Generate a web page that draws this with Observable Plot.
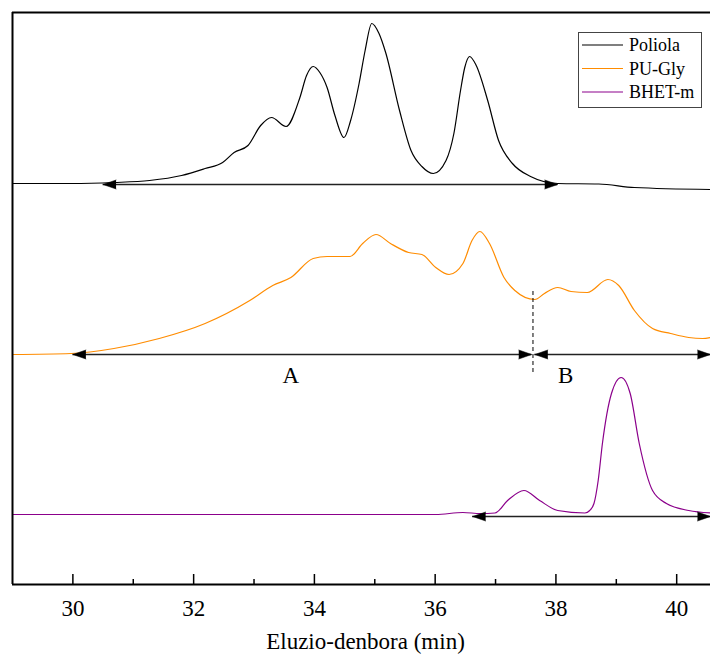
<!DOCTYPE html>
<html>
<head>
<meta charset="utf-8">
<script src="https://cdn.jsdelivr.net/npm/d3@7"></script>
<script src="https://cdn.jsdelivr.net/npm/@observablehq/plot@0.6"></script>
<style>
  body { margin: 0; background: #fff; }
  #wrap { position: relative; width: 710px; height: 660px; font-family: 'Liberation Serif', 'Times New Roman', serif; }
  #wrap svg text { font-family: 'Liberation Serif', 'Times New Roman', serif; }
  #legend { position: absolute; left: 578px; top: 32px; }
</style>
</head>
<body>
<div id="wrap"></div>
<script>
// ---- data (x: elution time in min, y: signal in arbitrary units) ----
const seriesNames = ["Poliola", "PU-Gly", "BHET-m"];
const seriesColors = ["#000000", "#ff8c00", "#8b008b"];
const seriesOffsets = [401, 230, 70];

const xPoliola = [29.0, 29.97, 30.68, 31.27, 31.80, 32.19, 32.48, 32.67, 32.90, 33.11, 33.29, 33.53, 33.76, 33.87, 33.98, 34.09, 34.21, 34.34, 34.49, 34.60, 34.74, 34.84, 34.95, 35.07, 35.18, 35.41, 35.60, 35.78, 35.97, 36.18, 36.31, 36.42, 36.49, 36.57, 36.68, 36.87, 37.05, 37.28, 37.58, 38.03, 38.71, 39.30, 40.56];
const yPoliola = [0, 0, 1, 3, 8, 15, 21, 31, 38, 58, 66, 57, 86, 108, 117, 111, 96, 68, 46, 63, 100, 133, 160, 150, 131, 73, 33, 17, 10, 23, 50, 93, 116, 127, 118, 83, 43, 20, 7, 0, -0.5, -4, -6];

const xPUGly = [29.0, 29.97, 30.68, 31.43, 32.19, 32.93, 33.31, 33.61, 33.98, 34.21, 34.59, 34.80, 35.02, 35.26, 35.56, 35.78, 36.01, 36.23, 36.46, 36.61, 36.74, 36.90, 37.14, 37.32, 37.65, 37.81, 38.03, 38.25, 38.52, 38.86, 39.04, 39.30, 39.60, 39.90, 40.20, 40.43, 40.56];
const yPUGly = [0, 1, 6, 16, 31, 54, 69, 77, 96, 98, 98, 111, 120, 111, 102, 100, 87, 80, 91, 114, 123, 111, 77, 64, 55, 61, 67, 63, 62, 75, 69, 44, 26, 21, 17, 16, 17];

const xBHET = [29.0, 36.01, 36.46, 36.75, 36.99, 37.20, 37.47, 37.73, 38.03, 38.48, 38.56, 38.63, 38.70, 38.77, 38.92, 39.08, 39.23, 39.38, 39.60, 39.83, 40.20, 40.56];
const yBHET = [0, 0, 2, 1, 1.5, 14, 24, 14, 4, 1.5, 4, 11, 34, 71, 121, 137, 121, 71, 24, 11, 4, 1.5];

// annotation arrows (range of elution), y in the same offset units
const arrowX1 = [30.50, 30.00, 37.65, 36.62];
const arrowX2 = [38.03, 37.60, 40.56, 40.56];
const arrowY  = [400, 230, 230, 68];

const dividerX = [37.62];
const dividerY1 = 212, dividerY2 = 294;

const regionLabels = ["A", "B"];
const regionLabelX = [33.61, 38.16];
const regionLabelY = 209;

const majorTicks = [30, 32, 34, 36, 38, 40];
const minorTicks = [31, 33, 35, 37, 39];
const xLabel = "Eluzio-denbora (min)";

// ---- build tables ----
const xs = [xPoliola, xPUGly, xBHET];
const ys = [yPoliola, yPUGly, yBHET];
const rows = [];
seriesNames.forEach((s, i) => {
  xs[i].forEach((x, j) => rows.push({series: s, x, y: seriesOffsets[i] + ys[i][j]}));
});
const arrows = arrowX1.map((x1, i) => ({x1, x2: arrowX2[i], y: arrowY[i]}));
const heads = arrows.flatMap(a => [{x: a.x1, y: a.y, rot: -90}, {x: a.x2, y: a.y, rot: 90}]);
const labels = regionLabels.map((t, i) => ({text: t, x: regionLabelX[i], y: regionLabelY}));

const serif = "Liberation Serif";

const chart = Plot.plot({
  width: 710,
  height: 660,
  marginLeft: 12,
  marginRight: 0,
  marginTop: 12,
  marginBottom: 76,
  style: "font-family: 'Liberation Serif', serif; font-size: 23px; background: white; color: black; overflow: visible;",
  x: {domain: [29, 40.56]},
  y: {domain: [0, 572], axis: null},
  color: {domain: seriesNames, range: seriesColors},
  marks: [
    Plot.axisX({ticks: majorTicks, tickSize: 0, tickPadding: 15, fontSize: 23, label: null}),
    Plot.ruleX(majorTicks, {y1: 0, y2: 10, strokeWidth: 1.5}),
    Plot.ruleX(minorTicks, {y1: 0, y2: 5, strokeWidth: 1.5}),
    Plot.line(rows, {x: "x", y: "y", z: "series", stroke: "series", curve: "monotone-x", strokeWidth: 1.2}),
    Plot.ruleX(dividerX, {y1: dividerY1, y2: dividerY2, strokeWidth: 1, strokeDasharray: "4,3"}),
    Plot.ruleY(arrows, {y: "y", x1: "x1", x2: "x2", stroke: "#222", strokeWidth: 1.5}),
    Plot.vector(heads, {x: "x", y: "y", rotate: "rot", length: 13, r: 4.5, shape: "spike", anchor: "end", fill: "black", stroke: "black", strokeWidth: 0.5}),
    Plot.text(labels, {x: "x", y: "y", text: "text", fontSize: 23, fontFamily: serif}),
    Plot.text([xLabel], {frameAnchor: "bottom", dy: 64, dx: 4, fontSize: 23, fontFamily: serif}),
    Plot.ruleY([0], {strokeWidth: 2}),
    Plot.ruleY([572], {strokeWidth: 2}),
    Plot.ruleX([29], {strokeWidth: 2})
  ]
});

const wrap = document.getElementById("wrap");
wrap.appendChild(chart);

// legend
const lg = d3.create("svg").attr("id", "legend").attr("width", 124).attr("height", 76)
  .style("font-family", "'Liberation Serif', serif").style("font-size", "18px");
lg.append("rect").attr("x", 0.5).attr("y", 0.5).attr("width", 123).attr("height", 75)
  .attr("fill", "white").attr("stroke", "#444").attr("stroke-width", 1);
seriesNames.forEach((s, i) => {
  const cy = 13 + i * 23.5;
  lg.append("line").attr("x1", 4).attr("x2", 45).attr("y1", cy).attr("y2", cy)
    .attr("stroke", seriesColors[i]).attr("stroke-width", 1.2);
  lg.append("text").attr("x", 51).attr("y", cy).attr("dy", "0.35em").text(s);
});
wrap.appendChild(lg.node());
</script>
</body>
</html>
